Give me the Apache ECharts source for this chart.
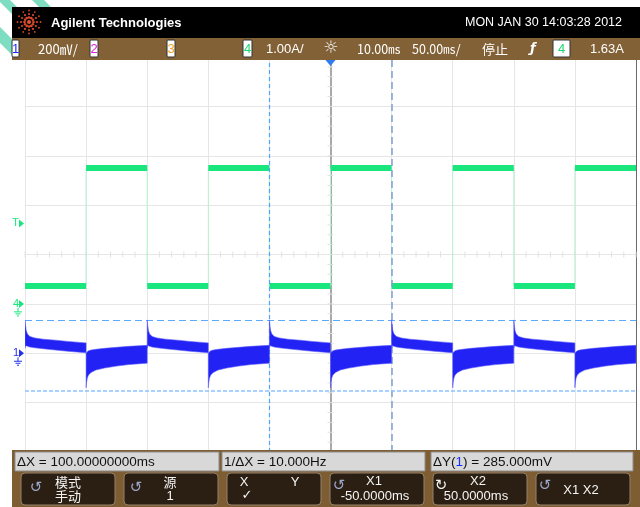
<!DOCTYPE html>
<html>
<head>
<meta charset="utf-8">
<script src="https://cdn.jsdelivr.net/npm/echarts@6/dist/echarts.min.js"></script>
<style>
  html, body { margin: 0; padding: 0; background: #fff; }
  #scope { width: 640px; height: 507px; }
</style>
</head>
<body>
<div id="scope"></div>
<script>
// Channel 4 (current probe, 1.00 A/div): square wave, segment edges in ms and level per segment in A
const ch4Edges = [-250, -200, -150, -100, -50, 0, 50, 100, 150, 200, 250];
const ch4Levels = [0.36, 2.75, 0.36, 2.75, 0.36, 2.75, 0.36, 2.75, 0.36, 2.75];

// Channel 1 (200 mV/div): envelope of the noisy trace after each edge, ms from the edge, mV
const ch1UpT   = [0, 0.4, 1, 2, 4, 8, 15, 25, 35, 50];
const ch1UpTop = [135, 115, 92, 78, 68, 62, 57, 53, 48, 42];
const ch1UpBot = [20, 30, 30, 28, 25, 22, 18, 13, 8, 2];
const ch1DnT   = [0, 0.4, 1, 2, 4, 8, 15, 25, 35, 50];
const ch1DnTop = [0, 2, 6, 10, 13, 16, 20, 24, 28, 32];
const ch1DnBot = [-140, -118, -100, -88, -78, -68, -60, -52, -46, -40];
const ch1UpStarts = [-250, -150, -50, 50, 150];
const ch1DnStarts = [-200, -100, 0, 100, 200];

// Cursors and trigger
const cursorX = [-50, 50];     // ms
const cursorY = [135, -150];   // mV on channel 1
const trigLevel = 1.63;        // A on channel 4

// Status line and readouts
const dateText = 'MON JAN 30 14:03:28 2012';
const readouts = ['ΔX = 100.00000000ms', '1/ΔX = 10.000Hz'];

const chart = echarts.init(document.getElementById('scope'), null, { renderer: 'canvas' });

// green trace: thin edges and thick level bars
const ch4Edge = [];
const ch4Bars = [];
ch4Levels.forEach((lv, i) => {
  ch4Edge.push([ch4Edges[i], lv], [ch4Edges[i + 1], lv]);
  ch4Bars.push([ch4Edges[i], lv], [ch4Edges[i + 1], lv], [ch4Edges[i + 1], null]);
});

const ch1Segments = ch1UpStarts.map(s => [s, 1]).concat(ch1DnStarts.map(s => [s, 0]));

const sansFont = '"Liberation Sans", Arial, sans-serif';
const cjkFont = '"Noto Sans CJK SC", "Liberation Sans", sans-serif';

chart.setOption({
  animation: false,
  backgroundColor: '#ffffff',
  grid: { left: 25, right: 4, top: 57, bottom: 55, containLabel: false },
  xAxis: {
    type: 'value', min: -250, max: 250, interval: 50,
    axisLine: { show: false }, axisTick: { show: false }, axisLabel: { show: false },
    splitLine: { show: true, lineStyle: { color: '#e6e6e6', width: 1 } }
  },
  yAxis: [
    {
      type: 'value', min: -400, max: 1200, interval: 200, position: 'left',
      axisLine: { show: true, lineStyle: { color: '#a9a9a9', width: 2 } },
      axisTick: { show: false }, axisLabel: { show: false },
      splitLine: { show: true, lineStyle: { color: '#e6e6e6', width: 1 } }
    },
    {
      type: 'value', min: -3, max: 5, interval: 1, position: 'right',
      axisLine: { show: true, lineStyle: { color: '#6a6a6a', width: 1 } },
      axisTick: { show: false }, axisLabel: { show: false },
      splitLine: { show: false }
    }
  ],
  series: [
    {
      // centre graticule minor ticks
      type: 'custom', silent: true, z: 1,
      data: [[0, 400]],
      renderItem(params, api) {
        const kids = [];
        for (let t = -250; t <= 250; t += 10) {
          const p = api.coord([t, 400]);
          kids.push({ type: 'line', shape: { x1: p[0], y1: p[1] - 3, x2: p[0], y2: p[1] + 3 },
            style: { stroke: '#e2e2e2', lineWidth: 1 } });
        }
        for (let v = -400; v <= 1200; v += 40) {
          const p = api.coord([0, v]);
          kids.push({ type: 'line', shape: { x1: p[0] - 3, y1: p[1], x2: p[0] + 3, y2: p[1] },
            style: { stroke: '#e2e2e2', lineWidth: 1 } });
        }
        return { type: 'group', children: kids };
      }
    },
    {
      name: 'ch4 edges', type: 'line', yAxisIndex: 1, data: ch4Edge,
      symbol: 'none', z: 3, lineStyle: { color: '#b8f2d3', width: 1 }
    },
    {
      name: 'ch4', type: 'line', yAxisIndex: 1, data: ch4Bars,
      symbol: 'none', z: 4, connectNulls: false,
      lineStyle: { color: '#19e67c', width: 6, cap: 'butt' }
    },
    {
      name: 'ch1', type: 'custom', yAxisIndex: 0, z: 5, clip: true,
      data: ch1Segments,
      encode: { x: 0, y: 1 },
      renderItem(params, api) {
        const start = api.value(0);
        const up = api.value(1) === 1;
        const T = up ? ch1UpT : ch1DnT;
        const top = up ? ch1UpTop : ch1DnTop;
        const bot = up ? ch1UpBot : ch1DnBot;
        const pts = [];
        for (let i = 0; i < T.length; i++) pts.push(api.coord([start + T[i], top[i]]));
        for (let i = T.length - 1; i >= 0; i--) pts.push(api.coord([start + T[i], bot[i]]));
        return { type: 'polygon', shape: { points: pts },
          style: { fill: '#2222f4', stroke: 'rgba(90,90,255,0.55)', lineWidth: 1 } };
      }
    },
    {
      name: 'cursors', type: 'line', yAxisIndex: 0, data: [], z: 6,
      markLine: {
        silent: true, symbol: ['none', 'none'], label: { show: false },
        data: [
          { xAxis: cursorX[0], lineStyle: { color: '#4ea4ff', type: [4, 3], width: 1.2 } },
          { xAxis: cursorX[1], lineStyle: { color: '#7f9ed0', type: [7, 4], width: 1.5 } },
          { yAxis: cursorY[0], lineStyle: { color: '#5aaaff', type: [7, 4], width: 1 } },
          { yAxis: cursorY[1], lineStyle: { color: '#8cc2ff', type: [4, 2], width: 1.5 } }
        ]
      }
    }
  ]
});

// ---- instrument frame: header, status line, markers, soft keys ----
const g = [];
const Z = 100;

// pale stripes in the upper-left corner
[[[-2, 0], [10, 0], [30, 20], [18, 20]],
 [[32, 0], [44, 0], [54, 10], [42, 10]],
 [[0, 27], [0, 43], [14, 57], [14, 41]]].forEach(p => {
  g.push({ type: 'polygon', z: Z - 1, shape: { points: p }, style: { fill: '#7fdec2' } });
});

// black title bar and brown status bar
g.push({ type: 'rect', z: Z, shape: { x: 12, y: 7, width: 628, height: 31 }, style: { fill: '#000' } });
g.push({ type: 'rect', z: Z, shape: { x: 12, y: 38, width: 628, height: 22 }, style: { fill: '#826136' } });

// starburst logo
const lc = [29, 22];
g.push({ type: 'circle', z: Z + 1, shape: { cx: lc[0], cy: lc[1], r: 2 }, style: { fill: '#e8552c' } });
for (let k = 0; k < 12; k++) {
  const a = k * Math.PI / 6;
  [[4.5, 1.3], [8, 1.1], [11.5, 0.9]].forEach(([r, s]) => {
    g.push({ type: 'circle', z: Z + 1,
      shape: { cx: lc[0] + r * Math.cos(a), cy: lc[1] + r * Math.sin(a), r: s },
      style: { fill: '#d9482a' } });
  });
}
g.push({ type: 'text', z: Z + 1, x: 51, y: 23,
  style: { text: 'Agilent Technologies', fill: '#fff', font: 'bold 13px ' + sansFont, verticalAlign: 'middle' } });
g.push({ type: 'text', z: Z + 1, x: 622, y: 23,
  style: { text: dateText, fill: '#fff', font: '12.5px ' + sansFont, align: 'right', verticalAlign: 'middle' } });

// channel boxes in the status line
function chanBox(x, w, label, color) {
  g.push({ type: 'rect', z: Z + 1, shape: { x: x, y: 40, width: w, height: 17, r: 1 },
    style: { fill: '#fff', stroke: '#333', lineWidth: 1 } });
  g.push({ type: 'text', z: Z + 2, x: x + w / 2, y: 49,
    style: { text: label, fill: color, font: '13px ' + sansFont, align: 'center', verticalAlign: 'middle' } });
}
function status(x, text, font) {
  g.push({ type: 'text', z: Z + 1, x: x, y: 49,
    style: { text: text, fill: '#fff', font: font || ('13px ' + sansFont), verticalAlign: 'middle' } });
}
chanBox(12, 7, '1', '#1a2cff');
status(38, '200㎷/', '13px ' + cjkFont);
chanBox(90, 8, '2', '#e020e0');
chanBox(167, 8, '3', '#f0a020');
chanBox(243, 9, '4', '#18d870');
status(266, '1.00A/');
g.push({ type: 'text', z: Z + 1, x: 331, y: 49,
  style: { text: '☼', fill: '#f2f2f2', font: '17px "DejaVu Sans"', align: 'center', verticalAlign: 'middle' } });
status(357, '10.00㎳', '12.5px ' + cjkFont);
status(412, '50.00㎳/', '12.5px ' + cjkFont);
status(482, '停止', '13px ' + cjkFont);
status(530, 'ƒ', 'italic bold 13px "DejaVu Sans"');
chanBox(553, 17, '4', '#18d870');
status(590, '1.63A');

// markers at the left edge and trigger position marker
const xT0 = chart.convertToPixel({ xAxisIndex: 0 }, 0);
g.push({ type: 'polygon', z: Z + 2, shape: { points: [[xT0 - 5, 60], [xT0 + 5, 60], [xT0, 66]] }, style: { fill: '#2f7cf0' } });

function leftMarker(y, label, color, ground) {
  g.push({ type: 'text', z: Z, x: 19, y: y,
    style: { text: label, fill: color, font: '11px ' + sansFont, align: 'right', verticalAlign: 'middle' } });
  g.push({ type: 'polygon', z: Z, shape: { points: [[19, y - 4], [24, y], [19, y + 4]] }, style: { fill: color } });
  if (ground) {
    g.push({ type: 'line', z: Z, shape: { x1: 18, y1: y + 4, x2: 18, y2: y + 8 }, style: { stroke: color, lineWidth: 1 } });
    g.push({ type: 'line', z: Z, shape: { x1: 14, y1: y + 8, x2: 22, y2: y + 8 }, style: { stroke: color, lineWidth: 1 } });
    g.push({ type: 'line', z: Z, shape: { x1: 15.5, y1: y + 10, x2: 20.5, y2: y + 10 }, style: { stroke: color, lineWidth: 1 } });
    g.push({ type: 'line', z: Z, shape: { x1: 17, y1: y + 12, x2: 19, y2: y + 12 }, style: { stroke: color, lineWidth: 1 } });
  }
}
leftMarker(chart.convertToPixel({ yAxisIndex: 1 }, trigLevel), 'T', '#19e67c', false);
leftMarker(chart.convertToPixel({ yAxisIndex: 1 }, 0), '4', '#19e67c', true);
leftMarker(chart.convertToPixel({ yAxisIndex: 0 }, 0), '1', '#2430f0', true);

// soft-key panel
g.push({ type: 'rect', z: Z, shape: { x: 12, y: 450, width: 628, height: 57 }, style: { fill: '#7e5d33' } });
[[15, 204], [222, 203]].forEach(([x, w], i) => {
  g.push({ type: 'rect', z: Z + 1, shape: { x: x, y: 452, width: w, height: 19 },
    style: { fill: '#d8d8d8', stroke: '#8d8d8d', lineWidth: 1 } });
  g.push({ type: 'text', z: Z + 2, x: x + 2, y: 462,
    style: { text: readouts[i], fill: '#111', font: '13.5px ' + sansFont, verticalAlign: 'middle' } });
});
g.push({ type: 'rect', z: Z + 1, shape: { x: 431, y: 452, width: 202, height: 19 },
  style: { fill: '#d8d8d8', stroke: '#8d8d8d', lineWidth: 1 } });
g.push({ type: 'text', z: Z + 2, x: 433, y: 462,
  style: { text: '{a|ΔY(}{b|1}{a|) = 285.000mV}', fill: '#111', font: '13.5px ' + sansFont, verticalAlign: 'middle',
    rich: { a: { fill: '#111', font: '13.5px ' + sansFont }, b: { fill: '#1a2cff', font: '13.5px ' + sansFont } } } });

const keyX = [21, 124, 227, 330, 433, 536];
keyX.forEach(x => {
  g.push({ type: 'rect', z: Z + 1, shape: { x: x, y: 473, width: 94, height: 32, r: 4 },
    style: { fill: '#2b1f13', stroke: '#94826c', lineWidth: 1 } });
});
function keyText(x, y, text, font, color) {
  g.push({ type: 'text', z: Z + 2, x: x, y: y,
    style: { text: text, fill: color || '#f4f4f4', font: font || ('13px ' + sansFont), align: 'center', verticalAlign: 'middle' } });
}
const iconFont = '15px "DejaVu Sans"';
keyText(36, 488, '↺', iconFont, '#9aa6cc');
keyText(68, 482, '模式', '13px ' + cjkFont);
keyText(68, 496, '手动', '13px ' + cjkFont);
keyText(136, 488, '↺', iconFont, '#9aa6cc');
keyText(170, 482, '源', '13px ' + cjkFont);
keyText(170, 496, '1');
keyText(244, 482, 'X');
keyText(295, 482, 'Y');
keyText(247, 496, '✓', '13px "DejaVu Sans"');
keyText(339, 486, '↺', iconFont, '#9aa6cc');
keyText(374, 481, 'X1');
keyText(375, 496, '-50.0000ms');
keyText(441, 486, '↻', iconFont, '#f0f0f0');
keyText(478, 481, 'X2');
keyText(476, 496, '50.0000ms');
keyText(545, 486, '↺', iconFont, '#9aa6cc');
keyText(581, 490, 'X1 X2');

chart.setOption({ graphic: { elements: g } });
</script>
</body>
</html>
